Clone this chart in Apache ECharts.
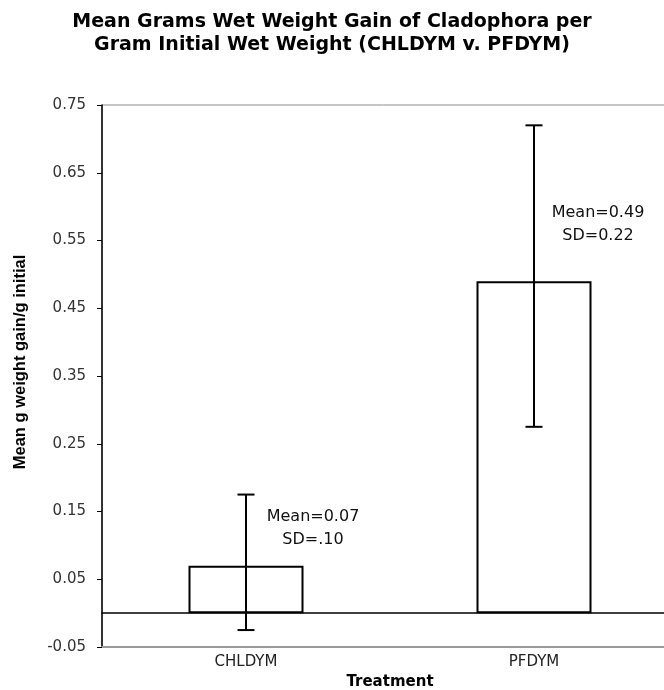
<!DOCTYPE html>
<html>
<head>
<meta charset="utf-8">
<script src="https://cdn.jsdelivr.net/npm/echarts@6/dist/echarts.min.js"></script>
<style>
	html, body { margin: 0; padding: 0; background: #fff; }
	#chart { width: 664px; height: 690px; }
</style>
</head>
<body>
<div id="chart"></div>
<script>
	// values
	var categories = ['CHLDYM', 'PFDYM'];
	var means = [0.07, 0.49];
	var errLow = [-0.025, 0.275];
	var errHigh = [0.175, 0.72];
	var meanText = ['Mean=0.07', 'Mean=0.49'];
	var sdText = ['SD=.10', 'SD=0.22'];
	var yMin = -0.05, yMax = 0.75, yStep = 0.1;

	var myChart = null;

	function cal_option(){
		var errData = [];
		for (var i = 0; i < categories.length; i++) {
			errData.push([i, errLow[i], errHigh[i], means[i]]);
		}
		// where the Mean/SD text sits, relative to the top of its bar
		var textShift = [[67, -37], [64, -57]];

		function renderErr(params, api) {
			var i = api.value(0);
			var lo = api.coord([i, api.value(1)]);
			var hi = api.coord([i, api.value(2)]);
			var top = api.coord([i, api.value(3)]);
			var cap = 8.5;
			var ls = { stroke: '#000', lineWidth: 2 };
			return {
				type: 'group',
				children: [
					{ type: 'line', shape: { x1: lo[0], y1: lo[1], x2: hi[0], y2: hi[1] }, style: ls },
					{ type: 'line', shape: { x1: lo[0] - cap, y1: lo[1], x2: lo[0] + cap, y2: lo[1] }, style: ls },
					{ type: 'line', shape: { x1: hi[0] - cap, y1: hi[1], x2: hi[0] + cap, y2: hi[1] }, style: ls },
					{
						type: 'text',
						x: top[0] + textShift[i][0],
						y: top[1] + textShift[i][1],
						style: {
							text: meanText[i] + '\n' + sdText[i],
							fill: '#111',
							font: '16px "DejaVu Sans"',
							align: 'center',
							verticalAlign: 'middle',
							lineHeight: 23
						}
					}
				]
			};
		}

		var option = {
			animation: false,
			backgroundColor: '#fff',
			title: {
				text: 'Mean Grams Wet Weight Gain of Cladophora per\nGram Initial Wet Weight (CHLDYM v. PFDYM)',
				left: 'center',
				top: 6,
				textStyle: {
					fontFamily: 'DejaVu Sans',
					fontWeight: 'bold',
					fontSize: 19,
					lineHeight: 23,
					color: '#000'
				}
			},
			grid: {
				left: 102,
				top: 105,
				right: -14,
				bottom: 43,
				outerBoundsMode: 'none',
				show: true,
				borderColor: '#8c8c8c',
				borderWidth: 1,
				backgroundColor: 'transparent'
			},
			xAxis: [
				{
					type: 'category',
					data: categories,
					position: 'bottom',
					name: 'Treatment',
					nameLocation: 'middle',
					nameGap: 26,
					nameTextStyle: {
						fontFamily: 'DejaVu Sans',
						fontWeight: 'bold',
						fontSize: 15,
						color: '#000'
					},
					axisLine: { onZero: false, lineStyle: { color: '#9a9a9a', width: 2 } },
					axisTick: { alignWithLabel: true, inside: true, length: 5, lineStyle: { color: '#777' } },
					axisLabel: {
						margin: 8,
						fontFamily: 'DejaVu Sans',
						fontSize: 15,
						color: '#222'
					},
					splitLine: { show: false }
				},
				{
					type: 'category',
					data: categories,
					position: 'top',
					axisLine: { onZero: true, lineStyle: { color: '#000', width: 1.5 } },
					axisTick: { inside: true, length: 5, lineStyle: { color: '#000' } },
					axisLabel: { show: false },
					splitLine: { show: false }
				}
			],
			yAxis: {
				type: 'value',
				min: yMin,
				max: yMax,
				interval: yStep,
				name: 'Mean g weight gain/g initial',
				nameLocation: 'middle',
				nameGap: 73,
				nameTextStyle: {
					fontFamily: 'Liberation Sans',
					fontWeight: 'bold',
					fontSize: 16.5,
					color: '#000',
					padding: [0, 0, 0, 28]
				},
				axisLine: { show: true, lineStyle: { color: '#000', width: 1.5 } },
				axisTick: { show: true, length: 5, lineStyle: { color: '#000' } },
				axisLabel: {
					margin: 16,
					fontFamily: 'DejaVu Sans',
					fontSize: 15,
					color: '#333',
					formatter: function (v) { return v.toFixed(2); }
				},
				splitLine: { show: false }
			},
			series: [
				{
					name: 'mean',
					type: 'bar',
					xAxisIndex: 0,
					barWidth: 115,
					data: means,
					itemStyle: { color: '#fff', borderColor: '#000', borderWidth: 2 }
				},
				{
					name: 'sd',
					type: 'custom',
					xAxisIndex: 0,
					renderItem: renderErr,
					data: errData,
					z: 5
				}
			]
		};
		return option;
	};

	function draw_charts(){
		myChart = echarts.init(document.getElementById('chart'));
		myChart.setOption(cal_option());
	};

	draw_charts();
</script>
</body>
</html>
